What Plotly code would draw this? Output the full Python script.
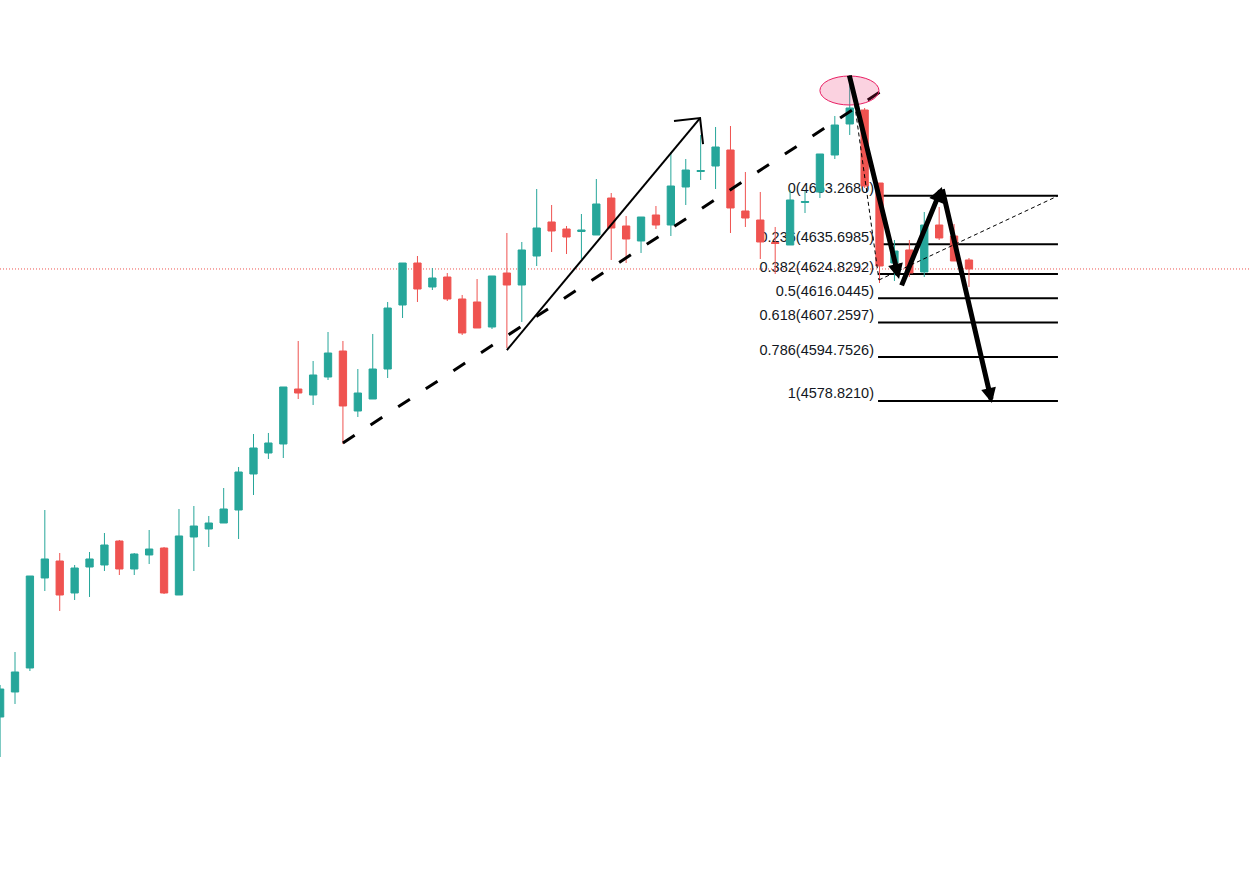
import plotly.graph_objects as go

# candles (one per bar)
opens = [4464.23, 4473.30, 4482.00, 4514.64, 4520.80, 4509.20, 4518.62, 4519.35, 4528.05, 4517.90,
         4522.98, 4525.51, 4508.47, 4529.50, 4532.40, 4534.58, 4539.29, 4552.35, 4559.96, 4563.23,
         4583.17, 4580.99, 4587.52, 4596.95, 4575.19, 4579.54, 4590.42, 4613.63, 4628.86, 4620.16,
         4623.78, 4615.81, 4614.72, 4605.65, 4625.23, 4620.88, 4631.40, 4643.73, 4641.19, 4640.28,
         4639.01, 4652.43, 4642.28, 4636.84, 4646.27, 4642.64, 4656.42, 4662.04, 4664.03, 4669.84,
         4647.72, 4644.45, 4636.29, 4635.39, 4650.80, 4654.61, 4668.02, 4679.27, 4684.34, 4657.87,
         4628.86, 4633.58, 4625.60, 4642.64, 4638.65, 4629.95]
highs = [4475.84, 4487.80, 4515.36, 4539.29, 4523.70, 4519.35, 4524.06, 4530.95, 4528.42, 4523.70,
         4532.04, 4525.88, 4539.66, 4540.74, 4537.12, 4547.27, 4554.89, 4566.85, 4567.22, 4583.90,
         4600.58, 4593.32, 4603.84, 4600.58, 4590.42, 4603.12, 4614.72, 4628.86, 4631.40, 4627.05,
         4625.23, 4617.26, 4623.06, 4624.15, 4639.74, 4636.48, 4655.69, 4649.89, 4642.28, 4646.63,
         4659.32, 4654.24, 4645.90, 4645.54, 4649.53, 4669.11, 4666.57, 4675.28, 4678.18, 4678.54,
         4661.86, 4654.61, 4641.92, 4655.33, 4654.97, 4668.39, 4682.17, 4697.03, 4685.07, 4657.87,
         4637.20, 4637.20, 4647.35, 4649.17, 4643.00, 4630.67]
lows = [4449.73, 4468.95, 4480.91, 4509.92, 4502.67, 4506.66, 4507.75, 4517.17, 4515.72, 4515.72,
        4519.71, 4508.83, 4508.47, 4517.17, 4525.88, 4534.58, 4528.78, 4544.73, 4557.79, 4558.15,
        4579.54, 4577.37, 4586.43, 4563.23, 4573.02, 4579.54, 4587.16, 4608.92, 4614.72, 4619.07,
        4615.08, 4602.75, 4605.29, 4604.93, 4598.04, 4607.47, 4627.77, 4632.85, 4632.12, 4630.31,
        4639.01, 4629.95, 4628.86, 4632.49, 4641.19, 4638.65, 4649.89, 4658.96, 4655.69, 4639.74,
        4641.92, 4630.31, 4624.87, 4635.39, 4646.99, 4652.43, 4666.57, 4675.28, 4656.06, 4621.61,
        4622.33, 4623.78, 4623.78, 4637.20, 4629.59, 4620.16]
closes = [4474.38, 4480.55, 4515.36, 4521.53, 4508.47, 4518.26, 4521.53, 4526.60, 4517.90, 4523.34,
          4525.15, 4509.20, 4529.87, 4533.49, 4534.58, 4539.66, 4553.07, 4561.78, 4563.59, 4583.90,
          4581.72, 4588.25, 4596.22, 4577.01, 4581.72, 4590.42, 4612.54, 4628.86, 4619.43, 4623.42,
          4615.81, 4603.48, 4605.29, 4624.15, 4620.88, 4633.58, 4641.55, 4640.46, 4638.29, 4640.83,
          4650.26, 4641.55, 4637.56, 4645.54, 4642.64, 4656.78, 4662.58, 4662.40, 4670.92, 4648.81,
          4645.18, 4636.48, 4635.93, 4651.71, 4651.16, 4668.39, 4678.90, 4685.07, 4656.78, 4627.77,
          4633.21, 4625.23, 4642.64, 4637.93, 4629.59, 4626.69]
bars = list(range(len(opens)))

# fibonacci levels on the right
fib_ratios = ["0", "0.236", "0.382", "0.5", "0.618", "0.786", "1"]
fib_prices = [4653.2680, 4635.6985, 4624.8292, 4616.0445, 4607.2597, 4594.7526, 4578.8210]
fib_span = (58.9, 70.97)

# hand drawn bits, as (bar, price)
channel_line = [(23.0, 4563.6), (59.03, 4690.9)]
up_arrow = [(34.0, 4597.3), (46.96, 4681.4)]
up_arrow_head = [(45.21, 4680.35), (46.96, 4681.4), (47.16, 4672.0)]
fib_trend = [(57.08, 4696.3), (58.96, 4622.7), (70.97, 4653.2)]
zigzag = [((56.95, 4697.4), (60.31, 4623.1)),
          ((60.44, 4620.2), (63.19, 4656.4)),
          ((63.19, 4656.1), (66.54, 4578.1))]
top_circle = ((55.0, 4686.15), (58.96, 4696.67))

UP = "#26a69a"
DOWN = "#ef5350"
INK = "#131722"

fig = go.Figure()
fig.add_trace(go.Candlestick(
    x=bars, open=opens, high=highs, low=lows, close=closes,
    increasing=dict(line=dict(color=UP, width=1), fillcolor=UP),
    decreasing=dict(line=dict(color=DOWN, width=1), fillcolor=DOWN),
    hoverinfo="skip",
))

shapes = []
# last price line
shapes.append(dict(type="line", xref="paper", yref="y", x0=0, x1=1,
                   y0=closes[-1], y1=closes[-1], layer="below",
                   line=dict(color=DOWN, width=1, dash="1px,2px")))

# fib levels sit under the candles, labels included
for ratio, price in zip(fib_ratios, fib_prices):
    shapes.append(dict(
        type="line", xref="x", yref="y", x0=fib_span[0], x1=fib_span[1],
        y0=price, y1=price, layer="below", line=dict(color="black", width=2),
        label=dict(text=f"{ratio}({price:.4f})\u00a0", textposition="start",
                   xanchor="right", yanchor="bottom", padding=1,
                   font=dict(family="Liberation Sans", size=14.5, color=INK)),
    ))

shapes.append(dict(type="line", xref="x", yref="y",
                   x0=channel_line[0][0], y0=channel_line[0][1],
                   x1=channel_line[1][0], y1=channel_line[1][1],
                   line=dict(color="black", width=3, dash="14px,19px")))

shapes.append(dict(type="line", xref="x", yref="y",
                   x0=up_arrow[0][0], y0=up_arrow[0][1],
                   x1=up_arrow[1][0], y1=up_arrow[1][1],
                   line=dict(color="black", width=2)))
head_path = "M {} {} L {} {} L {} {}".format(*[v for pt in up_arrow_head for v in pt])
shapes.append(dict(type="path", xref="x", yref="y", path=head_path,
                   line=dict(color="black", width=2)))

shapes.append(dict(type="circle", xref="x", yref="y",
                   x0=top_circle[0][0], y0=top_circle[0][1],
                   x1=top_circle[1][0], y1=top_circle[1][1],
                   fillcolor="rgba(233,30,99,0.2)", line=dict(color="#e91e63", width=1)))

for a, b in zip(fib_trend[:-1], fib_trend[1:]):
    shapes.append(dict(type="line", xref="x", yref="y", x0=a[0], y0=a[1], x1=b[0], y1=b[1],
                       line=dict(color="black", width=1, dash="4px,3px")))

annotations = []
for tail, tip in zigzag:
    annotations.append(dict(
        x=tip[0], y=tip[1], ax=tail[0], ay=tail[1], xref="x", yref="y",
        axref="x", ayref="y", text="", showarrow=True, arrowhead=2,
        arrowsize=0.6, arrowwidth=5, arrowcolor="black", standoff=0,
    ))

fig.update_layout(
    width=1250, height=896,
    margin=dict(l=0, r=0, t=0, b=0),
    paper_bgcolor="white", plot_bgcolor="white",
    showlegend=False,
    shapes=shapes, annotations=annotations,
    xaxis=dict(visible=False, range=[-0.0067, 83.854], rangeslider=dict(visible=False)),
    yaxis=dict(visible=False, range=[4399.32, 4724.23]),
)

fig.write_html("out.html", config={"displayModeBar": False},
               post_script="document.body.style.margin='0';document.body.style.overflow='hidden';")
